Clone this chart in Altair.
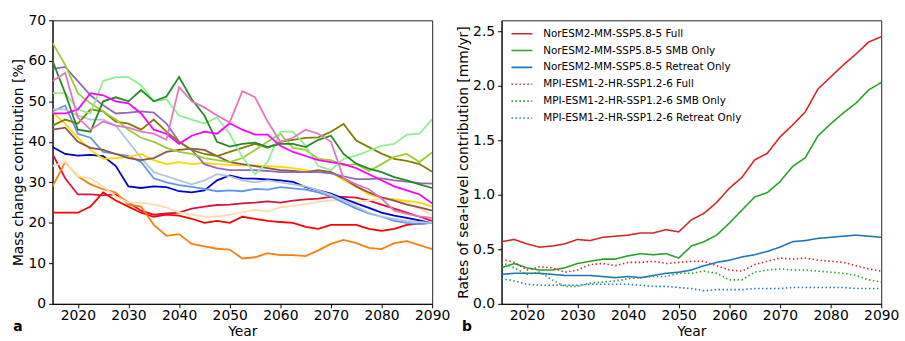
import altair as alt
import pandas as pd

FONT = "DejaVu Sans"

# Common time axis (every 2.5 years)
YEARS = [2015.0, 2017.5, 2020.0, 2022.5, 2025.0, 2027.5, 2030.0, 2032.5, 2035.0, 2037.5,
         2040.0, 2042.5, 2045.0, 2047.5, 2050.0, 2052.5, 2055.0, 2057.5, 2060.0, 2062.5,
         2065.0, 2067.5, 2070.0, 2072.5, 2075.0, 2077.5, 2080.0, 2082.5, 2085.0, 2087.5,
         2090.0]

# ---- Panel a: mass change contribution [%] per glacier simulation ----
red = [22.5, 22.5, 22.5, 24.0, 27.5, 25.5, 24.0, 22.5, 21.5, 22.0, 21.8, 21.0, 20.0, 20.5, 20.0,
       21.5, 21.0, 20.5, 20.2, 20.0, 19.0, 18.5, 19.5, 19.5, 19.5, 18.5, 18.0, 18.5, 19.5, 19.8, 20.0]
crimson = [37.0, 31.0, 27.0, 27.0, 26.8, 27.0, 25.0, 23.0, 22.0, 22.3, 22.5, 23.5, 24.0, 24.4, 24.5,
           24.8, 25.0, 25.3, 25.0, 25.5, 25.8, 26.0, 26.4, 26.4, 26.2, 25.5, 24.5, 23.5, 22.5, 21.5, 20.5]
orange = [29.0, 35.0, 31.5, 29.5, 28.3, 27.5, 24.5, 24.0, 19.5, 16.8, 17.2, 14.8, 14.2, 13.6, 13.4,
          11.2, 11.5, 12.5, 12.0, 12.0, 11.8, 13.2, 14.8, 15.8, 15.0, 13.8, 13.5, 15.0, 15.5, 14.5, 13.5]
peach = [34.0, 35.0, 31.5, 31.0, 29.0, 26.5, 25.0, 25.0, 24.5, 23.8, 22.5, 22.0, 21.5, 21.5, 22.0,
         22.6, 23.2, 22.8, 23.8, 24.2, 24.6, 25.2, 25.6, 25.4, 25.2, 25.5, 26.0, 25.8, 25.0, 23.5, 22.0]
blue = [38.7, 37.0, 36.6, 36.8, 36.5, 34.0, 29.0, 28.6, 29.0, 28.8, 27.8, 27.5, 28.0, 30.5, 31.7,
        31.0, 30.9, 30.7, 30.5, 30.1, 28.8, 28.0, 27.2, 26.0, 24.8, 23.7, 22.5, 21.8, 21.2, 20.6, 19.9]
cornflower = [47.5, 49.0, 42.0, 41.0, 37.5, 37.0, 36.5, 35.0, 31.0, 30.0, 29.3, 28.9, 28.4, 27.8, 28.0,
              27.8, 28.4, 28.2, 28.8, 28.5, 28.2, 27.5, 26.5, 25.0, 23.5, 22.3, 21.5, 20.5, 20.0, 19.7, 20.0]
steelblue = [48.0, 48.0, 46.5, 45.5, 45.5, 44.0, 40.0, 36.0, 32.5, 31.5, 30.5, 29.5, 30.5, 32.0, 31.5,
             30.5, 30.0, 30.5, 30.0, 29.5, 29.0, 28.0, 27.0, 25.5, 24.0, 22.5, 21.5, 21.0, 20.5, 20.2, 20.0]
gold = [47.3, 44.5, 41.0, 38.0, 35.8, 36.0, 36.2, 37.0, 35.5, 34.5, 35.0, 34.5, 34.8, 34.5, 34.3,
        34.2, 34.2, 34.0, 33.8, 33.5, 33.0, 32.5, 32.5, 30.5, 28.9, 27.0, 26.2, 25.8, 25.4, 25.0, 24.0]
brown = [43.0, 43.5, 40.0, 38.5, 38.0, 37.0, 36.0, 35.5, 36.0, 37.5, 38.0, 38.3, 38.0, 36.5, 35.0,
         34.5, 34.0, 33.5, 33.0, 32.8, 32.5, 33.0, 32.5, 31.0, 29.0, 27.5, 26.3, 25.5, 24.5, 23.8, 23.0]
purple = [58.0, 58.5, 55.0, 51.5, 49.0, 47.0, 47.2, 47.5, 47.2, 44.5, 40.0, 38.0, 34.5, 33.5, 33.0,
          33.0, 33.0, 32.8, 32.5, 32.5, 32.5, 32.5, 32.2, 31.5, 30.8, 30.8, 31.0, 30.5, 30.2, 29.8, 29.7]
olive = [44.0, 45.5, 44.5, 48.0, 47.5, 45.0, 44.5, 43.0, 45.5, 42.5, 40.0, 38.0, 37.0, 36.5, 37.5,
         38.5, 39.5, 38.5, 40.0, 40.5, 41.0, 41.1, 42.5, 44.4, 40.3, 38.7, 37.1, 35.8, 35.3, 34.5, 32.6]
yellowgreen = [64.4, 59.0, 52.0, 49.5, 47.5, 45.5, 43.0, 41.0, 40.0, 38.5, 37.5, 37.0, 36.0, 35.5, 35.0,
               36.0, 38.0, 40.0, 42.0, 38.5, 38.0, 35.8, 35.5, 34.2, 34.5, 32.8, 34.5, 36.3, 37.0, 35.0, 37.4]
lightgreen = [52.0, 52.0, 48.0, 47.0, 55.0, 56.0, 56.0, 54.0, 50.0, 50.5, 46.5, 45.5, 44.5, 46.0, 42.0,
              36.3, 32.0, 35.0, 42.5, 42.5, 39.0, 34.0, 33.0, 35.8, 36.6, 37.8, 39.0, 39.5, 41.8, 42.0, 45.6]
forestgreen = [60.0, 52.0, 43.0, 42.5, 50.0, 51.0, 50.0, 52.8, 50.0, 51.2, 56.0, 50.5, 46.5, 40.0, 38.8,
               39.5, 39.8, 38.7, 39.5, 39.5, 38.7, 40.5, 41.5, 37.0, 34.6, 33.4, 32.5, 31.3, 30.5, 29.5, 28.6]
magenta = [47.0, 47.0, 48.0, 52.0, 51.5, 50.0, 49.5, 47.0, 43.0, 42.0, 39.5, 41.5, 42.5, 42.0, 44.6,
           43.0, 41.8, 41.8, 39.0, 37.5, 36.5, 35.5, 35.0, 34.5, 33.5, 32.0, 30.5, 29.0, 28.0, 27.0, 24.8]
pink = [55.0, 57.0, 46.0, 43.0, 45.0, 44.0, 43.5, 42.5, 42.0, 40.5, 53.5, 50.0, 48.5, 46.5, 44.8,
        52.5, 51.0, 45.0, 40.0, 41.0, 43.0, 42.0, 40.0, 31.0, 29.5, 28.3, 26.0, 23.0, 22.2, 21.6, 21.2]

LEFT_NAMES = ["red", "crimson", "orange", "peach", "blue", "cornflower", "steelblue", "gold",
              "brown", "purple", "olive", "yellowgreen", "lightgreen", "forestgreen", "magenta", "pink"]
LEFT_COLORS = ["#FF0000", "#DC143C", "#FF7F0E", "#FFDEAD", "#0000CD", "#6495ED", "#B0C4DE", "#FFD700",
               "#8C564B", "#9467BD", "#808000", "#9ACD32", "#90EE90", "#228B22", "#FF00FF", "#E377C2"]
LEFT_VALUES = [red, crimson, orange, peach, blue, cornflower, steelblue, gold,
               brown, purple, olive, yellowgreen, lightgreen, forestgreen, magenta, pink]

# ---- Panel b: rates of sea-level contribution [mm/yr] ----
nor_full = [0.57, 0.59, 0.55, 0.52, 0.53, 0.55, 0.59, 0.58, 0.61, 0.62, 0.63, 0.65, 0.65, 0.68, 0.66,
            0.77, 0.83, 0.93, 1.06, 1.16, 1.32, 1.38, 1.53, 1.64, 1.76, 1.97, 2.08, 2.19, 2.29, 2.40, 2.45]
nor_smb = [0.33, 0.37, 0.33, 0.31, 0.31, 0.33, 0.37, 0.39, 0.41, 0.41, 0.44, 0.46, 0.45, 0.46, 0.42,
           0.53, 0.57, 0.63, 0.74, 0.86, 0.98, 1.02, 1.12, 1.26, 1.34, 1.54, 1.65, 1.75, 1.84, 1.96, 2.03]
nor_retreat = [0.27, 0.28, 0.28, 0.28, 0.27, 0.26, 0.26, 0.26, 0.25, 0.24, 0.25, 0.24, 0.26, 0.28, 0.29,
               0.31, 0.35, 0.38, 0.40, 0.43, 0.45, 0.48, 0.52, 0.57, 0.58, 0.60, 0.61, 0.62, 0.63, 0.62, 0.61]
mpi_full = [0.41, 0.38, 0.31, 0.34, 0.33, 0.29, 0.31, 0.36, 0.37, 0.35, 0.38, 0.38, 0.39, 0.37, 0.38,
            0.39, 0.39, 0.35, 0.31, 0.30, 0.36, 0.39, 0.42, 0.41, 0.42, 0.40, 0.39, 0.38, 0.35, 0.32, 0.30]
mpi_smb = [0.38, 0.33, 0.27, 0.29, 0.22, 0.16, 0.16, 0.19, 0.20, 0.21, 0.23, 0.24, 0.25, 0.25, 0.28,
           0.28, 0.30, 0.28, 0.22, 0.22, 0.29, 0.31, 0.32, 0.31, 0.31, 0.30, 0.29, 0.28, 0.26, 0.22, 0.20]
mpi_retreat = [0.23, 0.21, 0.18, 0.17, 0.17, 0.17, 0.17, 0.18, 0.18, 0.18, 0.18, 0.17, 0.16, 0.16, 0.15,
               0.14, 0.12, 0.13, 0.13, 0.13, 0.14, 0.14, 0.14, 0.15, 0.15, 0.15, 0.15, 0.15, 0.14, 0.14, 0.14]

RIGHT_NAMES = ["NorESM2-MM-SSP5.8-5 Full", "NorESM2-MM-SSP5.8-5 SMB Only",
               "NorESM2-MM-SSP5.8-5 Retreat Only", "MPI-ESM1-2-HR-SSP1.2-6 Full",
               "MPI-ESM1-2-HR-SSP1.2-6 SMB Only", "MPI-ESM1-2-HR-SSP1.2-6 Retreat Only"]
RIGHT_COLORS = ["#d62728", "#2ca02c", "#1f77b4", "#d62728", "#2ca02c", "#1f77b4"]
RIGHT_DASHES = [[1, 0], [1, 0], [1, 0], [1.5, 2.5], [1.5, 2.5], [1.5, 2.5]]
RIGHT_VALUES = [nor_full, nor_smb, nor_retreat, mpi_full, mpi_smb, mpi_retreat]

X_TICKS = [2020, 2030, 2040, 2050, 2060, 2070, 2080, 2090]

left_df = pd.DataFrame(
    [{"year": y, "value": v, "run": n, "order": i}
     for i, (n, vals) in enumerate(zip(LEFT_NAMES, LEFT_VALUES)) for y, v in zip(YEARS, vals)]
)
right_df = pd.DataFrame(
    [{"year": y, "value": v, "series": n, "order": i}
     for i, (n, vals) in enumerate(zip(RIGHT_NAMES, RIGHT_VALUES)) for y, v in zip(YEARS, vals)]
)

W, H = 383, 286


def x_enc():
    return alt.X("year:Q",
                 scale=alt.Scale(domain=[2015, 2090], nice=False, zero=False),
                 axis=alt.Axis(values=X_TICKS, format="d", title="Year"))


def panel_label(letter):
    return alt.Chart(pd.DataFrame({"t": [letter]})).mark_text(
        font=FONT, fontSize=14, fontWeight="bold", color="black",
        align="center", baseline="middle"
    ).encode(text="t:N", x=alt.value(-35), y=alt.value(309))


def series_legend():
    return alt.Legend(title=None, orient="none", legendX=9, legendY=2,
                      symbolType="stroke", symbolSize=441, symbolStrokeWidth=1.6,
                      labelFont=FONT, labelFontSize=10.5, labelColor="black",
                      labelOffset=10, labelLimit=0, rowPadding=-10, padding=0)


left_lines = alt.Chart(left_df).mark_line(strokeWidth=1.8, clip=True).encode(
    x=x_enc(),
    y=alt.Y("value:Q", scale=alt.Scale(domain=[0, 70], nice=False),
            axis=alt.Axis(values=list(range(0, 80, 10)), title="Mass change contribution [%]")),
    color=alt.Color("run:N", scale=alt.Scale(domain=LEFT_NAMES, range=LEFT_COLORS), legend=None),
    order="order:Q",
)
left = alt.layer(left_lines, panel_label("a")).properties(width=W, height=H)

right_lines = alt.Chart(right_df).mark_line(strokeWidth=1.6, clip=True).encode(
    x=x_enc(),
    y=alt.Y("value:Q", scale=alt.Scale(domain=[0, 2.6], nice=False),
            axis=alt.Axis(values=[0, 0.5, 1.0, 1.5, 2.0, 2.5], format=".1f",
                          title="Rates of sea-level contribution [mm/yr]")),
    color=alt.Color("series:N", scale=alt.Scale(domain=RIGHT_NAMES, range=RIGHT_COLORS),
                    legend=series_legend()),
    strokeDash=alt.StrokeDash("series:N", scale=alt.Scale(domain=RIGHT_NAMES, range=RIGHT_DASHES),
                              legend=series_legend()),
    order="order:Q",
)
right = alt.layer(right_lines, panel_label("b")).properties(width=W, height=H)

chart = alt.hconcat(left, right, spacing=70, bounds="flush").resolve_scale(
    color="independent", strokeDash="independent", x="independent", y="independent"
).resolve_legend(
    color="independent", strokeDash="independent"
).properties(
    padding={"left": 11, "top": 11, "right": 5, "bottom": 0}
).configure_view(
    stroke="#222222", strokeWidth=1
).configure_axis(
    labelFont=FONT, titleFont=FONT, labelFontSize=14, titleFontSize=14,
    titleFontWeight="normal", labelColor="black", titleColor="black",
    tickColor="black", domainColor="black", tickSize=4, labelPadding=3,
    grid=False, labelFlush=False
).configure_axisY(
    titlePadding=2
).configure_axisX(
    labelPadding=1, titlePadding=2
)

chart.save("out.html", embed_options={"renderer": "svg", "actions": False})
